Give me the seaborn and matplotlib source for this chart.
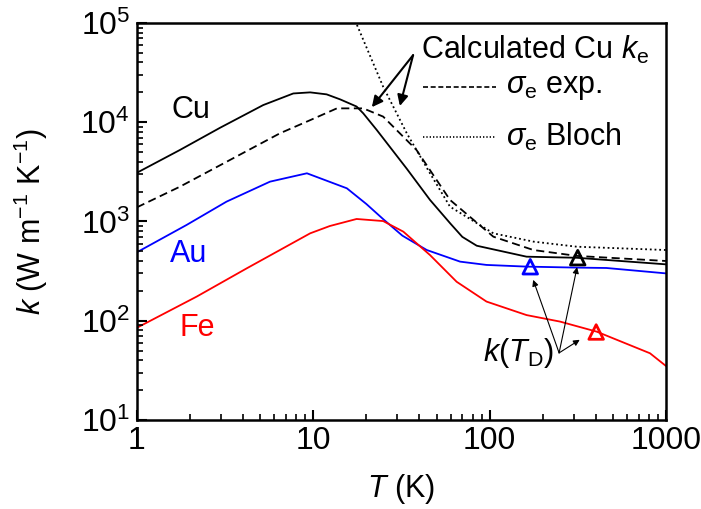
import matplotlib
matplotlib.use("Agg")
import matplotlib.pyplot as plt
import seaborn as sns
import numpy as np

# Thermal conductivity vs temperature
T_cu = [1, 1.75, 2.96, 5.2, 7.7, 9.6, 11.9, 14.2, 17.6, 19.2, 22.9, 33.9, 45.9, 60, 70, 84.5, 162, 312, 1000]
k_cu = [3100, 5250, 8800, 14900, 19500, 20000, 19100, 17000, 14400, 12300, 8360, 3400, 1650, 950, 700, 570, 442, 431, 370]

T_cu_exp = [1, 1.75, 3.37, 6.47, 9.6, 13.6, 19.2, 24.9, 38.5, 59.6, 105, 177, 312, 1000]
k_cu_exp = [1390, 2240, 4170, 7740, 10500, 13800, 13800, 11400, 5250, 1650, 703, 516, 450, 400]

T_cu_bloch = [15, 17.5, 24.9, 33.9, 45.9, 59.6, 105, 177, 312, 1000]
k_cu_bloch = [190000, 100000, 22800, 7740, 3060, 1410, 760, 627, 557, 516]

T_au = [1, 1.91, 3.22, 5.68, 9.2, 15.5, 20, 25, 32, 44, 68, 96, 162, 312, 460, 1000]
k_au = [490, 922, 1585, 2520, 3060, 2160, 1500, 1050, 720, 516, 394, 365, 351, 343, 340, 300]

T_fe = [1, 2.18, 4.19, 9.6, 12.4, 17.6, 24.9, 32.4, 45.9, 65, 96, 162, 251, 405, 812, 1000]
k_fe = [85, 175, 337, 760, 900, 1060, 1010, 790, 459, 247, 156, 114, 98, 77.6, 47, 35]

# k at the Debye temperature
T_debye = [170, 316, 402]
k_debye = [350, 432, 77]
debye_colors = ["blue", "black", "red"]

sns.set_style("ticks")
plt.rcParams["font.family"] = ["Liberation Sans", "DejaVu Sans"]
plt.rcParams["mathtext.fontset"] = "custom"
plt.rcParams["mathtext.rm"] = "Liberation Sans"
plt.rcParams["mathtext.it"] = "Liberation Sans:italic"
plt.rcParams["mathtext.bf"] = "Liberation Sans:bold"
for name in ["text.color", "axes.labelcolor", "xtick.color", "ytick.color", "axes.edgecolor"]:
    plt.rcParams[name] = "black"
plt.rcParams.update({
    "axes.axisbelow": False,
    "xtick.direction": "in", "ytick.direction": "in",
    "xtick.major.size": 7, "ytick.major.size": 7,
    "xtick.minor.size": 4, "ytick.minor.size": 4,
    "xtick.major.width": 1.5, "ytick.major.width": 1.5,
    "xtick.minor.width": 1.2, "ytick.minor.width": 1.2,
    "xtick.bottom": True, "ytick.left": True,
    "xtick.top": False, "ytick.right": False,
    "xtick.minor.visible": True, "ytick.minor.visible": True,
    "xtick.major.pad": 4, "ytick.major.pad": 5,
})

FS = 22
TFS = 23

fig = plt.figure(figsize=(7.01, 5.09), dpi=100)
ax = fig.add_axes([0.1954, 0.1749, 0.7546, 0.7799])

lw = 1.3
sns.lineplot(x=T_cu, y=k_cu, ax=ax, color="black", lw=lw, sort=False)
sns.lineplot(x=T_cu_exp, y=k_cu_exp, ax=ax, color="black", lw=lw, sort=False,
             dashes=False).lines[-1].set_dashes((4.5, 2.5))
sns.lineplot(x=T_cu_bloch, y=k_cu_bloch, ax=ax, color="black", lw=lw, sort=False,
             dashes=False).lines[-1].set_dashes((1, 1.6))
sns.lineplot(x=T_au, y=k_au, ax=ax, color="blue", lw=lw, sort=False)
sns.lineplot(x=T_fe, y=k_fe, ax=ax, color="red", lw=lw, sort=False)

sns.scatterplot(x=T_debye, y=k_debye, ax=ax, marker="^", s=110, facecolors="none",
                edgecolors=debye_colors, linewidths=2, zorder=5)

ax.set_xscale("log")
ax.set_yscale("log")
ax.set_xlim(1, 1000)
ax.set_ylim(10, 1e5)

ax.set_xticks([1, 10, 100, 1000])
ax.set_xticklabels(["1", "10", "100", "1000"])
ax.set_yticks([10, 100, 1000, 1e4, 1e5])
ax.set_yticklabels([r"$10^{1}$", r"$10^{2}$", r"$10^{3}$", r"$10^{4}$", r"$10^{5}$"])
ax.xaxis.set_minor_locator(matplotlib.ticker.LogLocator(base=10, subs=np.arange(2, 10)))
ax.yaxis.set_minor_locator(matplotlib.ticker.LogLocator(base=10, subs=np.arange(2, 10)))
ax.xaxis.set_minor_formatter(matplotlib.ticker.NullFormatter())
ax.yaxis.set_minor_formatter(matplotlib.ticker.NullFormatter())
ax.tick_params(which="major", labelsize=TFS)
for s in ax.spines.values():
    s.set_linewidth(1.8)

ax.set_xlabel(r"$T$ (K)", fontsize=FS, labelpad=12)
ax.set_ylabel(r"$k$ (W m$^{-1}$ K$^{-1}$)", fontsize=FS, labelpad=22)

# Material labels
ax.text(0.066, 0.781, "Cu", transform=ax.transAxes, fontsize=FS, color="black", va="center")
ax.text(0.062, 0.418, "Au", transform=ax.transAxes, fontsize=FS, color="blue", va="center")
ax.text(0.081, 0.232, "Fe", transform=ax.transAxes, fontsize=FS, color="red", va="center")

# Key for the calculated electronic contribution
ax.text(0.536, 0.932, r"Calculated Cu $k_\mathrm{e}$", transform=ax.transAxes,
        fontsize=FS, va="center")
ax.plot([0.541, 0.679], [0.839, 0.839], transform=ax.transAxes, color="black",
        lw=1.2, dashes=(3, 1.6))
ax.plot([0.541, 0.679], [0.713, 0.713], transform=ax.transAxes, color="black",
        lw=1.2, dashes=(0.8, 1.2))
ax.text(0.697, 0.839, r"$\sigma_\mathrm{e}$ exp.", transform=ax.transAxes, fontsize=FS, va="center")
ax.text(0.697, 0.713, r"$\sigma_\mathrm{e}$ Bloch", transform=ax.transAxes, fontsize=FS, va="center")

for hx, hy in [(0.444, 0.788), (0.497, 0.791)]:
    ax.annotate("", xy=(hx, hy), xycoords="axes fraction", xytext=(0.522, 0.919),
                textcoords="axes fraction",
                arrowprops=dict(arrowstyle="-|>", lw=1.5, color="black", mutation_scale=16,
                                shrinkA=0, shrinkB=0))

ax.text(0.655, 0.169, r"$k$($T_\mathrm{D}$)", transform=ax.transAxes, fontsize=FS, va="center")
for hx, hy in [(0.749, 0.353), (0.832, 0.385), (0.837, 0.202)]:
    ax.annotate("", xy=(hx, hy), xycoords="axes fraction", xytext=(0.798, 0.169),
                textcoords="axes fraction",
                arrowprops=dict(arrowstyle="-|>", lw=0.8, color="black", mutation_scale=9,
                                shrinkA=0, shrinkB=0))

fig.savefig("out.png", dpi=100)
